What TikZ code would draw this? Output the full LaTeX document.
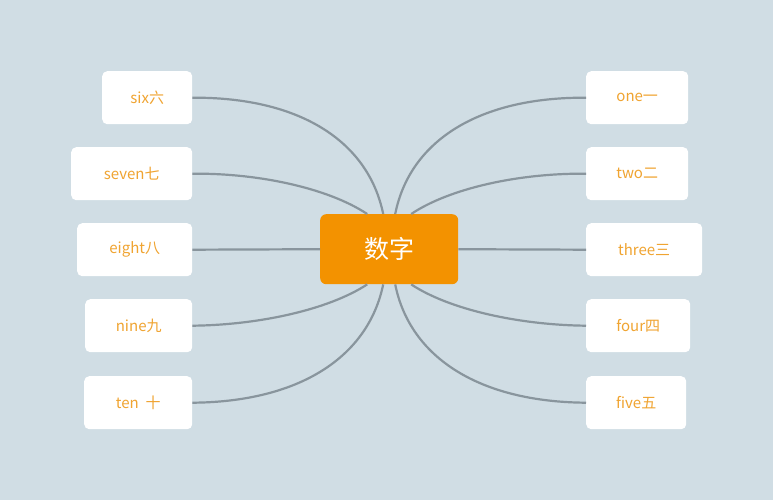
\documentclass[tikz,border=0pt]{standalone}
\usepackage{fontspec}
\setmainfont{Noto Sans CJK SC}
\usetikzlibrary{calc}
\definecolor{bg}{HTML}{D0DDE4}
\definecolor{ln}{HTML}{89959D}
\definecolor{org}{HTML}{F39200}
\definecolor{txt}{HTML}{F0A431}
\begin{document}
\begin{tikzpicture}[x=1pt,y=-1pt,
 leaf/.style={fill=white,rounded corners=5pt,text=txt,font=\fontsize{15}{18}\selectfont,inner sep=0pt,anchor=north west},
 link/.style={draw=ln,line width=2.2pt}]
\fill[bg] (0,0) rectangle (773,500);
\useasboundingbox (0,0) rectangle (773,500);
\node[fill=org,rounded corners=6pt,text=white,font=\fontsize{25}{30}\selectfont,minimum width=138pt,minimum height=70pt,inner sep=0pt,anchor=north west] (c) at (320,214) {数字};
\node[leaf,minimum width=102pt,minimum height=53pt] (n1) at (586,71) {one一};
\node[leaf,minimum width=102pt,minimum height=53pt] (n2) at (586,147) {two二};
\node[leaf,minimum width=116pt,minimum height=53pt] (n3) at (586,223) {three三};
\node[leaf,minimum width=104pt,minimum height=53pt] (n4) at (586,299) {four四};
\node[leaf,minimum width=100pt,minimum height=53pt] (n5) at (586,376) {five五};
\node[leaf,minimum width=90pt,minimum height=53pt] (n6) at (102,71) {six六};
\node[leaf,minimum width=121pt,minimum height=53pt] (n7) at (71,147) {seven七};
\node[leaf,minimum width=115pt,minimum height=53pt] (n8) at (77,223) {eight八};
\node[leaf,minimum width=107pt,minimum height=53pt] (n9) at (85,299) {nine九};
\node[leaf,minimum width=108pt,minimum height=53pt] (n10) at (84,376) {ten\ \ 十};
\begin{scope}[on background layer/.try]
\end{scope}
\draw[link] ($(c.north)+(6,0)$) .. controls (410,140) and (480,97) .. (n1.west);
\draw[link] ($(c.north)+(22,0)$) .. controls (450,188) and (520,173) .. (n2.west);
\draw[link] (c.east) -- (n3.west);
\draw[link] ($(c.south)+(22,0)$) .. controls (450,310) and (520,325) .. (n4.west);
\draw[link] ($(c.south)+(6,0)$) .. controls (410,358) and (480,402) .. (n5.west);
\draw[link] ($(c.north)+(-6,0)$) .. controls (368,140) and (298,97) .. (n6.east);
\draw[link] ($(c.north)+(-22,0)$) .. controls (328,188) and (258,173) .. (n7.east);
\draw[link] (c.west) -- (n8.east);
\draw[link] ($(c.south)+(-22,0)$) .. controls (328,310) and (258,325) .. (n9.east);
\draw[link] ($(c.south)+(-6,0)$) .. controls (368,358) and (298,402) .. (n10.east);
\end{tikzpicture}
\end{document}
